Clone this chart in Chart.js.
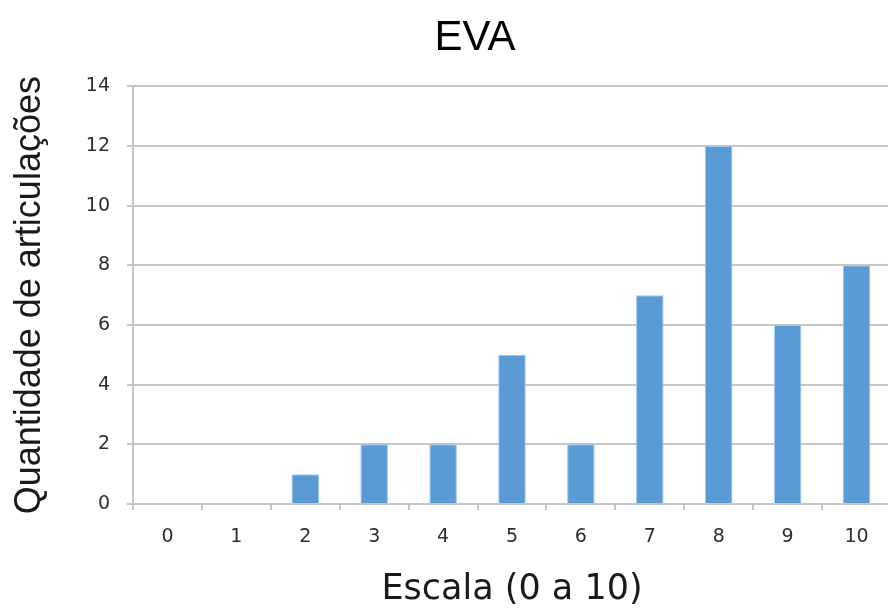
<!DOCTYPE html>
<html>
<head>
<meta charset="utf-8">
<script src="https://cdn.jsdelivr.net/npm/chart.js@4"></script>
<style>
  html, body { margin: 0; padding: 0; background: #fff; overflow: hidden; }
  #wrap { width: 888px; height: 613px; overflow: hidden; }
</style>
</head>
<body>
<div id="wrap"><canvas id="evaChart" width="950" height="613"></canvas></div>
<script>
// dados
const escala = ['0', '1', '2', '3', '4', '5', '6', '7', '8', '9', '10'];
const quantidade = [0, 0, 1, 2, 2, 5, 2, 7, 12, 6, 8];
const yMin = 0, yMax = 14, yStep = 2;

const gridGray = '#c6c6c6';
const tickFont = { family: "'DejaVu Sans', sans-serif", size: 19 };

const ctx = document.getElementById('evaChart').getContext('2d');
new Chart(ctx, {
    type: 'bar',
    data: {
        labels: escala,
        datasets: [{
            data: quantidade,
            backgroundColor: '#5b9bd5',
            borderColor: '#9fc6ee',
            borderWidth: 1,
            categoryPercentage: 1,
            barPercentage: 0.4
        }]
    },
    options: {
        responsive: false,
        animation: false,
        layout: { padding: 0 },
        plugins: {
            legend: { display: false },
            tooltip: { enabled: false },
            title: {
                display: true,
                text: 'EVA',
                color: '#000',
                font: { family: "'Liberation Sans', Arial, sans-serif", size: 42, weight: 'normal' },
                padding: { top: 13, bottom: 23 }
            }
        },
        scales: {
            x: {
                grid: { offset: true, drawOnChartArea: false, drawTicks: true, tickLength: 6, color: gridGray, lineWidth: 2 },
                border: { color: gridGray, width: 2 },
                ticks: { color: '#2e2e2e', font: tickFont, padding: 16, maxRotation: 0 },
                title: {
                    display: true,
                    text: 'Escala (0 a 10)',
                    color: '#1a1a1a',
                    font: { family: "'DejaVu Sans', sans-serif", size: 35 },
                    padding: { top: 0, bottom: 2 }
                },
                afterFit: (s) => { s.height = 109; }
            },
            y: {
                min: yMin,
                max: yMax,
                grid: { color: gridGray, lineWidth: 2, tickLength: 6 },
                border: { color: gridGray, width: 2 },
                ticks: { stepSize: yStep, color: '#2e2e2e', font: tickFont, padding: 17 },
                title: {
                    display: true,
                    text: 'Quantidade de articulações',
                    color: '#1a1a1a',
                    font: { family: "'Liberation Sans', Arial, sans-serif", size: 36 },
                    padding: { top: 8, bottom: 0 }
                },
                afterFit: (s) => { s.width = 133; }
            },
            yr: {
                position: 'right',
                min: yMin,
                max: yMax,
                grid: { display: false },
                border: { display: false },
                ticks: { display: false },
                afterFit: (s) => { s.width = 59; }
            }
        }
    }
});
</script>
</body>
</html>
